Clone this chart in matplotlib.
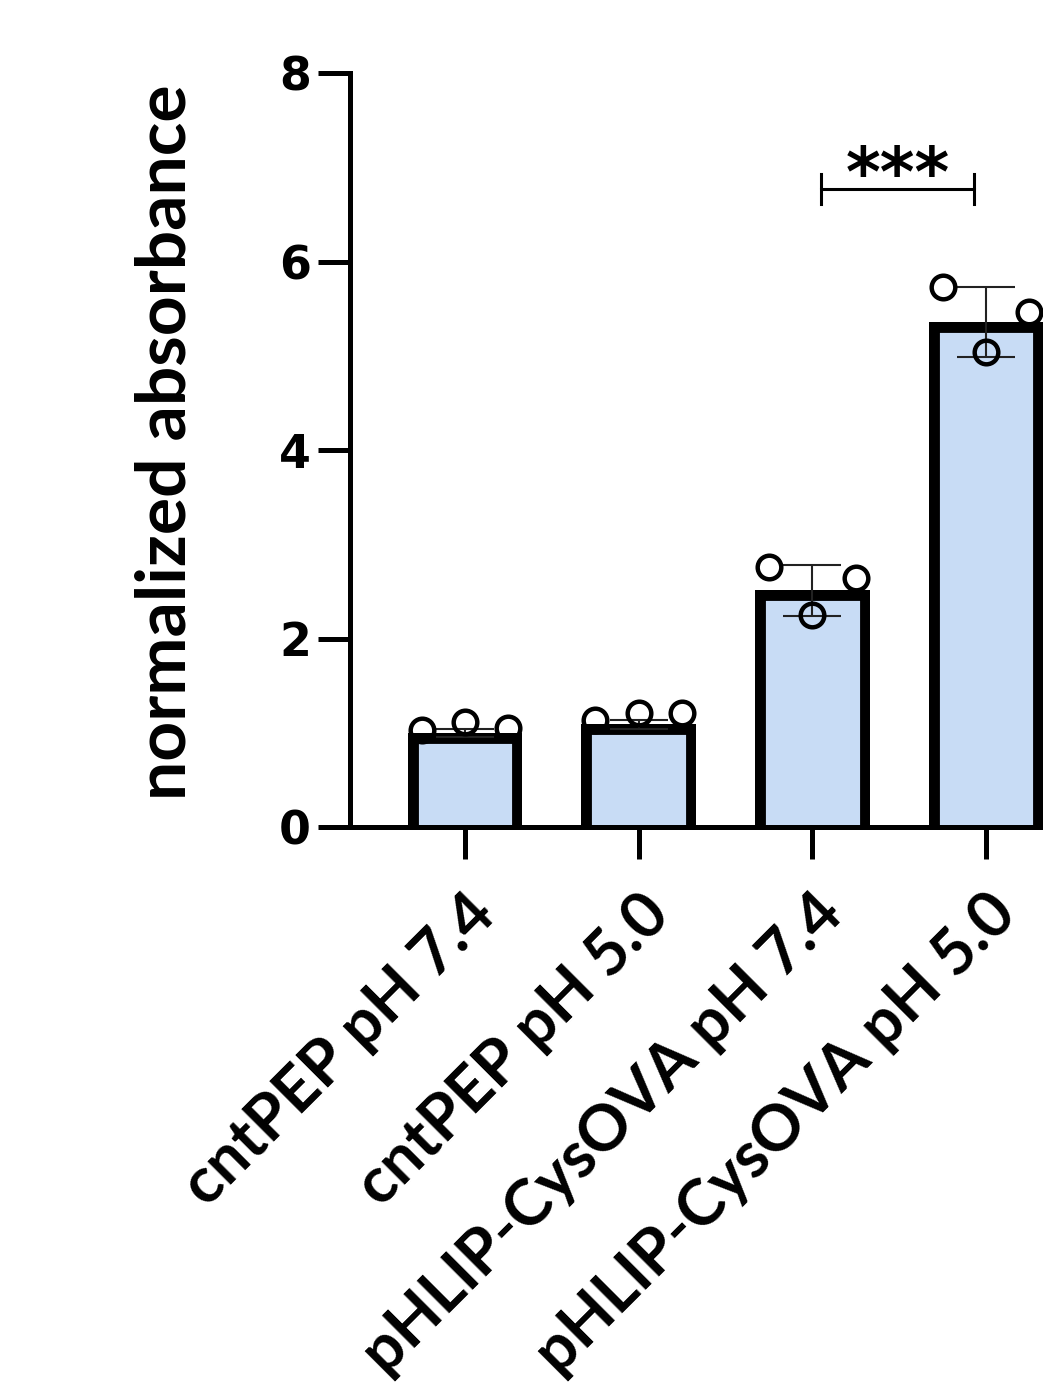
import matplotlib
matplotlib.use("Agg")
import matplotlib.pyplot as plt
from matplotlib.patches import Polygon
import numpy as np

# group labels and measured values
groups = ["cntPEP pH 7.4", "cntPEP pH 5.0",
          "pHLIP-CysOVA pH 7.4", "pHLIP-CysOVA pH 5.0"]
means = [1.00, 1.09, 2.51, 5.36]
sds = [0.04, 0.05, 0.27, 0.37]
replicates = [
    [1.03, 1.11, 1.05],
    [1.13, 1.21, 1.21],
    [2.76, 2.25, 2.64],
    [5.73, 5.04, 5.46],
]
# replicate offsets within each bar
offsets = [-0.25, 0.0, 0.25]

bar_color = "#c8dcf5"

fig = plt.figure(figsize=(10.43, 13.85), dpi=100)
ax = fig.add_axes([350 / 1043, 558 / 1385, 751 / 1043, 754 / 1385])

x = np.arange(len(groups))
bars = ax.bar(x, means, width=0.66, color=bar_color, edgecolor="none",
              zorder=2)
# thick outline on three sides, kept inside the bar
for b in bars:
    x0, w, h = b.get_x(), b.get_width(), b.get_height()
    clip = Polygon([[x0, -1], [x0 + w, -1], [x0 + w, h], [x0, h]],
                   closed=True, transform=ax.transData)
    line, = ax.plot([x0, x0, x0 + w, x0 + w], [0, h, h, 0], color="black",
                    lw=15, solid_joinstyle="miter", zorder=2.5)
    line.set_clip_path(clip)

for i, vals in enumerate(replicates):
    ax.plot(x[i] + np.array(offsets), vals, "o", ms=17, mfc="none",
            mec="black", mew=3.2, zorder=4, clip_on=False)

ax.errorbar(x, means, yerr=sds, fmt="none", ecolor="#222222",
            elinewidth=1.5, capsize=21, capthick=1.5, zorder=3)

# significance bracket between the two pHLIP groups
y_br = 6.77
ax.plot([2.05, 2.05, 2.93, 2.93], [y_br + 0.16, y_br, y_br, y_br + 0.16],
        color="black", lw=2.2, clip_on=False)
ax.plot([2.05, 2.05], [y_br, y_br - 0.16], color="black", lw=2.2)
ax.plot([2.93, 2.93], [y_br, y_br - 0.16], color="black", lw=2.2)
ax.text(2.49, 6.70, "***", ha="center", va="baseline",
        fontsize=48, fontweight="bold", family="DejaVu Sans")

ax.set_xlim(-0.662, 3.662)
ax.set_ylim(0, 8)
ax.set_yticks([0, 2, 4, 6, 8])
ax.set_xticks(x)
ax.set_xticklabels(groups, rotation=45, ha="right", va="top",
                   rotation_mode="anchor", fontsize=46, fontweight="bold",
                   family="Lato")
for lab in ax.get_yticklabels():
    lab.set_fontsize(33)
    lab.set_fontweight("bold")
    lab.set_family("DejaVu Sans")

ax.spines["top"].set_visible(False)
ax.spines["right"].set_visible(False)
ax.spines["left"].set_linewidth(3.6)
ax.spines["bottom"].set_linewidth(3.6)
ax.spines["bottom"].set_zorder(3.5)
ax.tick_params(axis="both", width=3.6, length=23)
ax.tick_params(axis="y", pad=5)
ax.tick_params(axis="x", pad=18)

ax.set_ylabel("normalized absorbance", fontsize=50, fontweight="bold",
              family="Lato")
ax.yaxis.set_label_coords(-0.203, 0.51)

fig.savefig("out.png", dpi=100)
